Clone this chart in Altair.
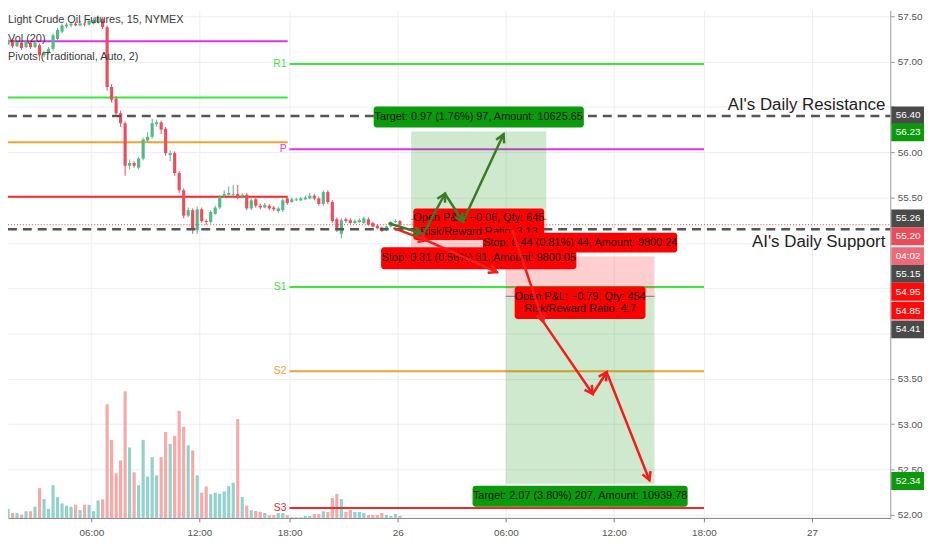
import math
import altair as alt
import pandas as pd

W, H = 890, 512
X_DOM = [5.5, 201.36]
Y_DOM = [51.964, 57.566]
PX_PER_BAR = W / (X_DOM[1] - X_DOM[0])
PX_PER_USD = H / (Y_DOM[1] - Y_DOM[0])
FONT = "Liberation Sans, Arial, sans-serif"

# ---------------- data ----------------
bars = list(range(3, 93))  # 15-minute bars since 00:00 on the 25th (17:00-18:00 break removed)
opens = [57.17, 57.22, 57.19, 57.24, 57.17, 57.21, 57.16, 57.21, 57.16, 57.18,
         57.07, 57.10, 57.14, 57.25, 57.33, 57.39, 57.40, 57.42, 57.40, 57.42,
         57.41, 57.42, 57.43, 57.47, 57.38, 56.72, 56.59, 56.43, 56.32, 55.85,
         55.88, 55.83, 55.93, 56.13, 56.17, 56.31, 56.33, 56.26, 55.97, 55.99,
         55.77, 55.58, 55.30, 55.36, 55.14, 55.37, 55.24, 55.23, 55.32, 55.39,
         55.52, 55.53, 55.53, 55.54, 55.51, 55.53, 55.38, 55.48, 55.41, 55.39,
         55.41, 55.39, 55.35, 55.36, 55.49, 55.45, 55.47, 55.47, 55.48, 55.49,
         55.52, 55.49, 55.43, 55.56, 55.45, 55.26, 55.10, 55.26, 55.25, 55.22,
         55.23, 55.22, 55.26, 55.22, 55.19, 55.17, 55.14, 55.18, 55.23, 55.24]
highs = [57.23, 57.24, 57.26, 57.26, 57.23, 57.22, 57.24, 57.22, 57.23, 57.20,
         57.12, 57.16, 57.31, 57.37, 57.42, 57.43, 57.44, 57.44, 57.45, 57.43,
         57.47, 57.48, 57.50, 57.49, 57.40, 56.75, 56.62, 56.46, 56.34, 55.92,
         55.90, 55.95, 56.16, 56.22, 56.37, 56.36, 56.35, 56.28, 56.02, 56.01,
         55.79, 55.60, 55.39, 55.38, 55.40, 55.39, 55.26, 55.36, 55.41, 55.53,
         55.58, 55.62, 55.64, 55.64, 55.55, 55.55, 55.49, 55.50, 55.43, 55.44,
         55.43, 55.41, 55.40, 55.49, 55.51, 55.50, 55.50, 55.51, 55.52, 55.55,
         55.54, 55.51, 55.58, 55.58, 55.47, 55.28, 55.27, 55.28, 55.27, 55.26,
         55.27, 55.29, 55.28, 55.23, 55.20, 55.18, 55.19, 55.24, 55.26, 55.25]
lows = [57.15, 57.17, 57.18, 57.15, 57.16, 57.13, 57.15, 57.14, 57.15, 57.01,
        57.05, 57.08, 57.12, 57.23, 57.31, 57.37, 57.38, 57.39, 57.39, 57.39,
        57.40, 57.41, 57.42, 57.36, 56.68, 56.55, 56.40, 56.28, 55.74, 55.81,
        55.83, 55.81, 55.91, 56.11, 56.15, 56.28, 56.20, 55.96, 55.90, 55.74,
        55.55, 55.27, 55.28, 55.10, 55.10, 55.22, 55.20, 55.21, 55.31, 55.37,
        55.50, 55.52, 55.51, 55.48, 55.49, 55.36, 55.36, 55.39, 55.37, 55.38,
        55.36, 55.35, 55.33, 55.34, 55.42, 55.44, 55.46, 55.46, 55.47, 55.48,
        55.47, 55.41, 55.41, 55.43, 55.22, 55.12, 55.05, 55.22, 55.21, 55.21,
        55.22, 55.21, 55.19, 55.17, 55.15, 55.12, 55.13, 55.17, 55.22, 55.19]
closes = [57.21, 57.18, 57.24, 57.17, 57.22, 57.15, 57.22, 57.16, 57.21, 57.07,
          57.10, 57.14, 57.29, 57.35, 57.40, 57.41, 57.42, 57.40, 57.42, 57.41,
          57.45, 57.46, 57.48, 57.38, 56.72, 56.58, 56.43, 56.32, 55.85, 55.88,
          55.85, 55.93, 56.14, 56.17, 56.32, 56.33, 56.25, 55.99, 55.99, 55.77,
          55.58, 55.30, 55.36, 55.14, 55.37, 55.24, 55.23, 55.34, 55.39, 55.51,
          55.54, 55.55, 55.54, 55.50, 55.53, 55.38, 55.47, 55.41, 55.39, 55.42,
          55.38, 55.37, 55.38, 55.47, 55.44, 55.48, 55.48, 55.49, 55.50, 55.52,
          55.49, 55.43, 55.56, 55.45, 55.24, 55.14, 55.25, 55.24, 55.22, 55.24,
          55.25, 55.27, 55.20, 55.18, 55.16, 55.13, 55.18, 55.23, 55.24, 55.20]
volumes = [6.7, 3.3, 9, 5, 5, 3.3, 6.7, 6.7, 11.3, 30,
           19, 9, 33, 21, 14.7, 12.3, 11.3, 13.3, 8, 13.3,
           13.3, 6.7, 17.7, 18.7, 114.7, 78.7, 45, 58, 127.7, 71,
           46, 33, 78.7, 41.7, 61.3, 43, 61.3, 86.7, 74.7, 82.7,
           108, 92, 73.3, 68, 43, 25.3, 31.7, 24, 25.3, 24.3,
           26.7, 32, 35.3, 99.7, 21, 12.3, 7.7, 7, 6.3, 5,
           2.7, 2.7, 5, 5, 2.7, 0.7, 0.7, 0.7, 2, 2,
           4, 4, 6.7, 6, 20, 24.3, 19, 6, 8, 6,
           6, 5, 3, 3, 3, 5, 3, 2, 4, 2]

tick_bars = [24, 48, 68, 92, 116, 140, 160, 184]
tick_labels = ["06:00", "12:00", "18:00", "26", "06:00", "12:00", "18:00", "27"]
price_ticks = [52.0, 52.5, 53.0, 53.5, 54.0, 54.5, 55.0, 55.5, 56.0, 56.5, 57.0, 57.5]
price_ticks_hidden = [54.0, 54.5, 55.0, 56.5]  # covered by the price tags

prev_pivot_prices = [57.226, 56.603, 56.110, 55.509]
prev_pivot_colors = ["#e132e6", "#3ce63c", "#f5a032", "#f02828"]
prev_session = [0, 67.6]
cur_pivot_names = ["R1", "P", "S1", "S2", "S3"]
cur_pivot_prices = [56.975, 56.034, 54.513, 53.583, 52.073]
cur_pivot_colors = ["#3ce63c", "#e132e6", "#3ce63c", "#f5a032", "#f02828"]
cur_session = [68, 160]

ai_names = ["AI's Daily Resistance", "AI's Daily Support"]
ai_levels = [56.40, 55.15]
last_price = 55.20

pos_names = ["long", "short"]
pos_start = [95, 116]
pos_end = [125, 149]
pos_entry = [55.26, 54.41]
pos_stop = [54.95, 54.85]
pos_target = [56.23, 52.34]

label_bar = [110, 110, 132.5, 132.5, 132.5, 110]
label_price = [56.23, 55.26, 54.85, 54.41, 52.34, 54.95]
label_lines = [["Target: 0.97 (1.76%) 97, Amount: 10625.65"],
               ["Open P&L: \u22120.06, Qty: 645", "Risk/Reward Ratio: 3.13"],
               ["Stop: 0.44 (0.81%) 44, Amount: 9800.24"],
               ["Open P&L: \u22120.79, Qty: 454", "Risk/Reward Ratio: 4.7"],
               ["Target: 2.07 (3.80%) 207, Amount: 10939.78"],
               ["Stop: 0.31 (0.56%) 31, Amount: 9800.05"]]
label_kind = ["win", "loss", "loss", "loss", "win", "loss"]

arrow_x0 = [90.2, 97.3, 102.5, 106.5, 91.3, 98.4, 117.5, 124.3, 135.3, 138.4]
arrow_p0 = [55.213, 55.060, 55.542, 55.235, 55.159, 55.027, 55.137, 54.130, 53.332, 53.572]
arrow_x1 = [97.3, 102.5, 106.5, 115.5, 98.4, 114.0, 124.3, 135.3, 138.4, 147.9]
arrow_p1 = [55.104, 55.542, 55.235, 56.198, 55.027, 54.677, 54.130, 53.332, 53.572, 52.380]
arrow_side = ["long"] * 4 + ["short"] * 6

tag_text = ["56.40", "56.23", "55.26", "55.20", "04:02", "55.15", "54.95", "54.85", "54.41", "52.34"]
tag_at = [56.406, 56.221, 55.269, 55.072, 54.854, 54.657, 54.460, 54.252, 54.045, 52.371]
tag_kind = ["line", "target", "entry", "last", "timer", "line", "stop", "stop", "entry", "target"]

legend_lines = ["Light Crude Oil Futures, 15, NYMEX", "Vol (20)", "Pivots (Traditional, Auto, 2)"]

# ---------------- styles ----------------
UP, DOWN = "#53b987", "#eb4d5c"
VUP, VDOWN = "#92d2cc", "#f7a9a8"
TAG_COLORS = {"line": "#4a4a4a", "entry": "#4a4a4a", "target": "#0b9a0b",
              "stop": "#ff0a0a", "last": "#ea4c5a", "timer": "#ef6a78"}
ARROW_COLORS = {"long": "#3c7a28", "short": "#f51c1c"}
LABEL_FILL = {"win": "#0b9a0b", "loss": "#ff0000"}
# (top offset, bottom offset, half width, text dy per line)
LABEL_STYLE = [(-25, -4, 106, [-14.5]), (-11, 21, 66, [-1, 13]), (-24, -4, 98, [-14]),
               (-10, 23, 66, [0.5, 12.5]), (2, 23, 108.5, [12.5]), (0, 22, 98.5, [11])]

xexpr = " : ".join(f"datum.value == {b} ? '{t}'" for b, t in zip(tick_bars, tick_labels)) + " : ''"
yexpr = ("indexof([" + ",".join(str(v) for v in price_ticks_hidden) +
         "], datum.value) >= 0 ? '' : format(datum.value, '.2f')")

xscale = alt.Scale(domain=X_DOM, nice=False, zero=False)
yscale = alt.Scale(domain=Y_DOM, nice=False, zero=False)
xaxis = alt.Axis(values=tick_bars, labelExpr=xexpr, grid=True, gridColor="#eceef2", gridWidth=1,
                 domainColor="#7f7f7f", tickColor="#7f7f7f", tickSize=4, labelColor="#555555",
                 labelFontSize=10, labelFont=FONT, labelPadding=6, title=None, labelFlush=False)
yaxis = alt.Axis(orient="right", values=price_ticks, labelExpr=yexpr, grid=True,
                 gridColor="#eceef2", gridWidth=1, domainColor="#9a9a9a", tickColor="#9a9a9a",
                 tickSize=4, labelColor="#555555", labelFontSize=10, labelFont=FONT,
                 labelPadding=3, title=None, labelFlush=False)


def X(f):
    return alt.X(f, type="quantitative", scale=xscale, axis=xaxis)


def Y(f):
    return alt.Y(f, type="quantitative", scale=yscale, axis=yaxis)


# ---------------- frames ----------------
cd = pd.DataFrame({"bar": bars, "open": opens, "high": highs, "low": lows,
                   "close": closes, "vol": volumes})
up = cd["close"] >= cd["open"]
cd["col"] = [UP if u else DOWN for u in up]
cd["vcol"] = [VUP if u else VDOWN for u in up]
cd["x0"] = cd["bar"] + 0.15
cd["x1"] = cd["bar"] + 0.85
cd["xc"] = cd["bar"] + 0.5
cd["zero"] = 0.0

volume = alt.Chart(cd).mark_rect().encode(
    x=X("x0"), x2="x1",
    y=alt.Y("vol:Q", scale=alt.Scale(domain=[0, H], nice=False, zero=True), axis=None),
    y2="zero",
    color=alt.Color("vcol:N", scale=None))

prev_df = pd.DataFrame({"p": prev_pivot_prices, "col": prev_pivot_colors,
                        "a": prev_session[0], "b": prev_session[1]})
prev_rules = alt.Chart(prev_df).mark_rule(strokeWidth=2, clip=True).encode(
    x=X("a"), x2="b", y=Y("p"), color=alt.Color("col:N", scale=None))

cur_df = pd.DataFrame({"p": cur_pivot_prices, "col": cur_pivot_colors, "name": cur_pivot_names,
                       "a": cur_session[0], "b": cur_session[1]})
cur_rules = alt.Chart(cur_df).mark_rule(strokeWidth=2).encode(
    x=X("a"), x2="b", y=Y("p"), color=alt.Color("col:N", scale=None))
cur_text = alt.Chart(cur_df).mark_text(align="right", baseline="middle", dx=-3, fontSize=10.5,
                                       font=FONT).encode(
    x=X("a"), y=Y("p"), text="name:N", color=alt.Color("col:N", scale=None))

box_rows = []
for i in range(len(pos_names)):
    box_rows.append({"a": pos_start[i], "b": pos_end[i], "p0": pos_entry[i], "p1": pos_target[i],
                     "col": "#1f9a1f"})
    box_rows.append({"a": pos_start[i], "b": pos_end[i], "p0": pos_entry[i], "p1": pos_stop[i],
                     "col": "#ff2020"})
box_df = pd.DataFrame(box_rows)
boxes = alt.Chart(box_df).mark_rect(opacity=0.22).encode(
    x=X("a"), x2="b", y=Y("p0"), y2="p1", color=alt.Color("col:N", scale=None))

entry_df = pd.DataFrame({"a": pos_start, "b": pos_end, "p": pos_entry})
entry_rules = alt.Chart(entry_df).mark_rule(color="#777777", strokeWidth=1).encode(
    x=X("a"), x2="b", y=Y("p"))

wicks = alt.Chart(cd).mark_rule(strokeWidth=1).encode(
    x=X("xc"), y=Y("low"), y2="high", color=alt.Color("col:N", scale=None))
bodies = alt.Chart(cd).mark_rect().encode(
    x=X("x0"), x2="x1", y=Y("open"), y2="close", color=alt.Color("col:N", scale=None))

ai_df = pd.DataFrame({"name": ai_names, "p": ai_levels, "a": X_DOM[0], "b": X_DOM[1]})
ai_rules = alt.Chart(ai_df).mark_rule(color="#555555", strokeWidth=2.5, strokeDash=[9, 6]).encode(
    x=X("a"), x2="b", y=Y("p"))
ai_res = alt.Chart(ai_df.iloc[[0]]).mark_text(align="right", baseline="alphabetic", dy=-6,
                                              fontSize=17, font=FONT, color="#222222").encode(
    x=alt.value(W - 5), y=Y("p"), text="name:N")
ai_sup = alt.Chart(ai_df.iloc[[1]]).mark_text(align="right", baseline="top", dy=5,
                                              fontSize=17, font=FONT, color="#222222").encode(
    x=alt.value(W - 5), y=Y("p"), text="name:N")

last_df = pd.DataFrame({"p": [last_price], "a": X_DOM[0], "b": X_DOM[1]})
last_rule = alt.Chart(last_df).mark_rule(color="#f03c3c", strokeWidth=1, strokeDash=[1, 2]).encode(
    x=X("a"), x2="b", y=Y("p"))

label_layers = []
for i in range(len(label_bar)):
    top, bot, hw, dys = LABEL_STYLE[i]
    d = pd.DataFrame({"c": [label_bar[i]], "p": [label_price[i]]})
    fill = LABEL_FILL[label_kind[i]]
    label_layers.append(alt.Chart(d).mark_rect(color=fill, cornerRadius=3, xOffset=-hw, x2Offset=hw,
                                               yOffset=top, y2Offset=bot).encode(
        x=X("c"), x2="c", y=Y("p"), y2="p"))
    for line, dy in zip(label_lines[i], dys):
        dl = d.assign(t=line)
        label_layers.append(alt.Chart(dl).mark_text(align="center", baseline="middle", dy=dy,
                                                    fontSize=11, font=FONT, color="#161616").encode(
            x=X("c"), y=Y("p"), text="t:N"))

ar = pd.DataFrame({"x0": arrow_x0, "p0": arrow_p0, "x1": arrow_x1, "p1": arrow_p1,
                   "col": [ARROW_COLORS[s] for s in arrow_side]})
ddx = (ar["x1"] - ar["x0"]) * PX_PER_BAR
ddy = -(ar["p1"] - ar["p0"]) * PX_PER_USD
ar["ang"] = [(math.degrees(math.atan2(a, -b)) + 360) % 360 for a, b in zip(ddx, ddy)]
arrow_lines = alt.Chart(ar).mark_rule(strokeWidth=2.5, strokeCap="round").encode(
    x=X("x0"), x2="x1", y=Y("p0"), y2="p1", color=alt.Color("col:N", scale=None))
arrow_heads = alt.Chart(ar).mark_point(shape="M-0.55,1L0,0L0.55,1", filled=False, strokeWidth=2.5,
                                       size=260, opacity=1, strokeJoin="miter").encode(
    x=X("x1"), y=Y("p1"), angle=alt.Angle("ang:Q", scale=None),
    color=alt.Color("col:N", scale=None))

tag_df = pd.DataFrame({"t": tag_text, "at": tag_at, "col": [TAG_COLORS[k] for k in tag_kind]})
tag_box = alt.Chart(tag_df).mark_rect(yOffset=-9, y2Offset=9).encode(
    x=alt.value(W + 1), x2=alt.value(W + 34), y=Y("at"), y2="at",
    color=alt.Color("col:N", scale=None))
tag_txt = alt.Chart(tag_df).mark_text(align="center", baseline="middle", fontSize=10, font=FONT,
                                      color="white").encode(
    x=alt.value(W + 18), y=Y("at"), text="t:N")

leg_df = pd.DataFrame({"t": legend_lines, "row": [0, 1, 2]})
legend = alt.Chart(leg_df).mark_text(align="left", baseline="alphabetic", fontSize=11, font=FONT,
                                     color="#3a3a3a").encode(
    x=alt.value(0), y=alt.Y("row:Q", scale=alt.Scale(domain=[0, 2], range=[13, 50]), axis=None),
    text="t:N")

price_layers = alt.layer(prev_rules, cur_rules, cur_text, boxes, entry_rules, wicks, bodies,
                         ai_rules, last_rule, ai_res, ai_sup, *label_layers, arrow_lines,
                         arrow_heads, tag_box, tag_txt)

chart = alt.layer(volume, price_layers, legend).resolve_scale(y="independent").properties(
    width=W, height=H,
    autosize=alt.AutoSizeParams(type="none"),
    padding={"left": 0, "top": 0, "right": 34, "bottom": 30},
    background="white",
).configure_view(stroke="transparent")

chart.save("out.html", embed_options={"renderer": "svg", "actions": False})
